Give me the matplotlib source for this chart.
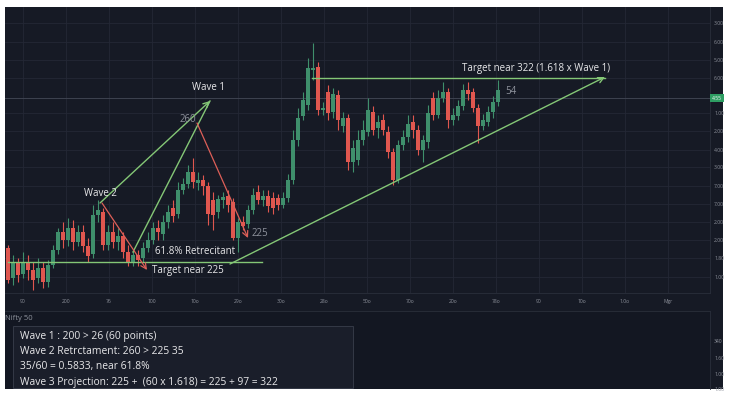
import matplotlib
matplotlib.use('Agg')
import matplotlib.pyplot as plt
from matplotlib.patches import Rectangle
import numpy as np

plt.rcParams['font.family'] = ['Open Sans', 'DejaVu Sans']

# candle prices (arbitrary price units)
opens = [52, 22, 38, 26, 38, 30, 22, 32, 18, 35, 50, 68, 60, 72, 58, 68, 54, 46, 85, 88,
         55, 68, 58, 64, 48, 38, 45, 42, 52, 60, 72, 66, 78, 92, 86, 110, 116, 128, 117, 120,
         114, 100, 88, 100, 104, 98, 62, 78, 76, 90, 108, 100, 104, 102, 102, 95, 102, 120, 160, 184,
         195, 230, 233, 190, 208, 188, 205, 174, 182, 138, 140, 160, 168, 188, 172, 180, 168, 148, 120, 155,
         163, 178, 170, 150, 158, 202, 185, 202, 208, 180, 184, 194, 210, 208, 192, 174, 178, 188, 198]
closes = [20, 38, 25, 38, 30, 20, 32, 18, 35, 50, 68, 60, 72, 58, 68, 54, 44, 85, 90, 55,
          68, 58, 64, 48, 38, 45, 40, 52, 60, 72, 68, 78, 88, 84, 110, 116, 128, 118, 120, 114,
          86, 85, 101, 103, 95, 62, 78, 74, 90, 105, 100, 104, 94, 92, 95, 102, 120, 160, 182, 200,
          232, 232, 190, 192, 187, 206, 180, 182, 138, 152, 160, 170, 190, 170, 178, 170, 148, 120, 155, 163,
          176, 170, 150, 160, 187, 185, 202, 208, 180, 185, 194, 210, 206, 192, 174, 180, 188, 198, 210]
highs = [55, 45, 42, 48, 45, 38, 42, 38, 40, 55, 72, 78, 82, 80, 75, 75, 62, 95, 100, 92,
         75, 78, 72, 68, 55, 50, 50, 58, 68, 78, 80, 85, 95, 100, 118, 122, 135, 142, 128, 125,
         118, 108, 105, 108, 110, 102, 82, 84, 95, 112, 115, 110, 110, 108, 106, 108, 126, 170, 192, 208,
         242, 257, 238, 198, 215, 212, 210, 188, 186, 160, 170, 180, 202, 194, 185, 186, 174, 152, 160, 170,
         185, 185, 175, 165, 195, 208, 210, 218, 212, 192, 200, 216, 218, 212, 196, 186, 194, 204, 220]
lows = [17, 15, 18, 22, 20, 10, 17, 12, 13, 32, 46, 52, 54, 50, 54, 48, 38, 42, 78, 50,
        50, 52, 50, 42, 34, 34, 34, 38, 48, 56, 60, 60, 72, 78, 82, 106, 112, 112, 110, 105,
        75, 70, 82, 92, 88, 60, 48, 70, 72, 86, 96, 94, 88, 86, 90, 92, 98, 116, 154, 180,
        190, 220, 185, 185, 180, 182, 170, 168, 130, 128, 135, 155, 164, 165, 162, 165, 142, 115, 117, 150,
        158, 162, 145, 138, 152, 180, 182, 198, 172, 175, 180, 190, 200, 188, 157, 170, 174, 182, 194]

time_labels = ['90', '200', '76', '100', '10o', '29o', '30o', '28o', '50o', '70o',
               '20o', '78o', '90', '10o', '1.0o', 'Mgr']
price_ticks = [23, 42, 60, 78, 96, 114, 133, 150, 169, 187, 222, 240, 258, 277]
price_labels = ['1.00', '1.80', '2.00', '2.00', '7.00', '7.00', '3.00', '4.00', '2.00',
                '1.00', '6.00', '5.00', '6.00', '3.00']
lower_labels = ['1.00', '1.00', '1.60', '340']

notes = ['Wave 1 : 200 > 26 (60 points)',
         'Wave 2 Retrctament: 260 > 225 35',
         '35/60 = 0.5833, near 61.8%',
         'Wave 3 Projection: 225 +  (60 x 1.618) = 225 + 97 = 322']

BG = '#161a25'
GRID = '#242835'
UP = '#3f8f6c'
DOWN = '#e0574f'
LINE_G = '#84c776'
LINE_R = '#dd5f58'
TXT = '#e8e8ea'
MUTED = '#8d919b'

W, H = 730, 397
fig = plt.figure(figsize=(W / 100, H / 100), dpi=100, facecolor='white')


def px_axes(x0, y0, x1, y1, **kw):
    return fig.add_axes([x0 / W, 1 - y1 / H, (x1 - x0) / W, (y1 - y0) / H], **kw)


# panel background
bg = px_axes(5, 7, 723, 389)
bg.set_facecolor(BG)
bg.set_xticks([])
bg.set_yticks([])
for s in bg.spines.values():
    s.set_visible(False)

ax = px_axes(5, 7, 710, 293)
ax.set_facecolor(BG)
n = len(opens)
idx = np.arange(n)
o = np.array(opens)
c = np.array(closes)
up = c >= o
col = np.where(up, UP, DOWN)
ax.vlines(idx, lows, highs, colors=col, lw=0.8, zorder=3)
ax.bar(idx, np.maximum(np.abs(c - o), 1.2), bottom=np.minimum(o, c), width=0.64,
       color=col, zorder=4, linewidth=0)

ax.set_xlim(-0.6, 140.4)
ax.set_ylim(7, 293)
xt = 3 + 8.6 * np.arange(len(time_labels))
ax.set_xticks(xt)
ax.set_xticklabels(time_labels)
ax.set_yticks(price_ticks)
ax.set_yticklabels(price_labels)
ax.yaxis.tick_right()
ax.tick_params(axis='both', length=0, labelsize=3.6, labelcolor=MUTED)
ax.tick_params(axis='x', pad=4)
ax.tick_params(axis='y', pad=3)
ax.grid(True, color=GRID, lw=0.6)
ax.set_axisbelow(True)
for k, s in ax.spines.items():
    s.set_visible(k in ('right', 'bottom'))
    s.set_color('#2a2f3b')
    s.set_linewidth(0.6)

# last price line and tag
last = closes[-1] - 8
ax.axhline(last, color='#3e4350', lw=0.7, zorder=1)
ax.text(1.003, last, '4.55', transform=ax.get_yaxis_transform(), fontsize=3.6,
        color='white', va='center', ha='left',
        bbox=dict(boxstyle='square,pad=0.35', fc='#2e9e63', ec='none'))

# wave annotations
ax.plot([0, 50.8], [38, 38], color=LINE_G, lw=1.0, zorder=5)
ax.plot([60.8, 119.4], [222, 222], color=LINE_G, lw=1.0, zorder=5)
ax.plot([25, 40.4], [48, 199], color=LINE_G, lw=1.0, zorder=5)
ax.annotate('', xy=(40.4, 199), xytext=(18.4, 97),
            arrowprops=dict(arrowstyle='->', color=LINE_G, lw=1.0, shrinkA=0, shrinkB=0), zorder=5)
ax.annotate('', xy=(119.4, 223), xytext=(44.4, 36),
            arrowprops=dict(arrowstyle='->', color=LINE_G, lw=1.0, shrinkA=0, shrinkB=0), zorder=5)
ax.annotate('', xy=(27.8, 30), xytext=(18.8, 97),
            arrowprops=dict(arrowstyle='->', color=LINE_R, lw=0.9, shrinkA=0, shrinkB=0), zorder=5)
ax.annotate('', xy=(48, 62), xytext=(37.8, 177),
            arrowprops=dict(arrowstyle='->', color=LINE_R, lw=0.9, shrinkA=0, shrinkB=0), zorder=5)

fs = 7
ax.text(40.2, 212, 'Wave 1', color=TXT, fontsize=fs, ha='center', va='center', zorder=6)
ax.text(36, 180, '260', color=MUTED, fontsize=fs, ha='center', va='center', zorder=6)
ax.text(18.4, 107, 'Wave 2', color=TXT, fontsize=fs, ha='center', va='center', zorder=6)
ax.text(48.8, 66, '225', color=MUTED, fontsize=fs, ha='left', va='center', zorder=6)
ax.text(29.4, 48, '61.8% Retrecitant', color=TXT, fontsize=fs, ha='left', va='center', zorder=6)
ax.text(28.8, 29, 'Target near 225', color=TXT, fontsize=fs, ha='left', va='center', zorder=6)
ax.text(105.6, 232, 'Target near 322 (1.618 x Wave 1)', color=TXT, fontsize=fs,
        ha='center', va='center', zorder=6)
ax.text(99.4, 209, '54', color=MUTED, fontsize=fs, ha='left', va='center', zorder=6)

# lower pane
low = px_axes(5, 311, 710, 389)
low.set_facecolor('#131722')
low.set_xlim(0, 1)
low.set_ylim(0, 78)
low.set_xticks([])
low.set_yticks([0, 15, 31, 48])
low.set_yticklabels(lower_labels)
low.yaxis.tick_right()
low.tick_params(axis='y', length=0, labelsize=3.6, labelcolor=MUTED, pad=3)
for k, s in low.spines.items():
    s.set_visible(k in ('top', 'right'))
    s.set_color('#2a2f3b')
    s.set_linewidth(0.6)

low.text(0.0, 71, 'Nifty 50', color=MUTED, fontsize=5.5, ha='left', va='center')
low.add_patch(Rectangle((0.011, 1), 0.483, 62, fc='#1a1e2a', ec='#343946', lw=0.7))
for i, line in enumerate(notes):
    low.text(0.021, 53 - 15.5 * i, line, color=TXT, fontsize=7.4, ha='left', va='center')

fig.savefig('out.png', dpi=100, facecolor='white')
